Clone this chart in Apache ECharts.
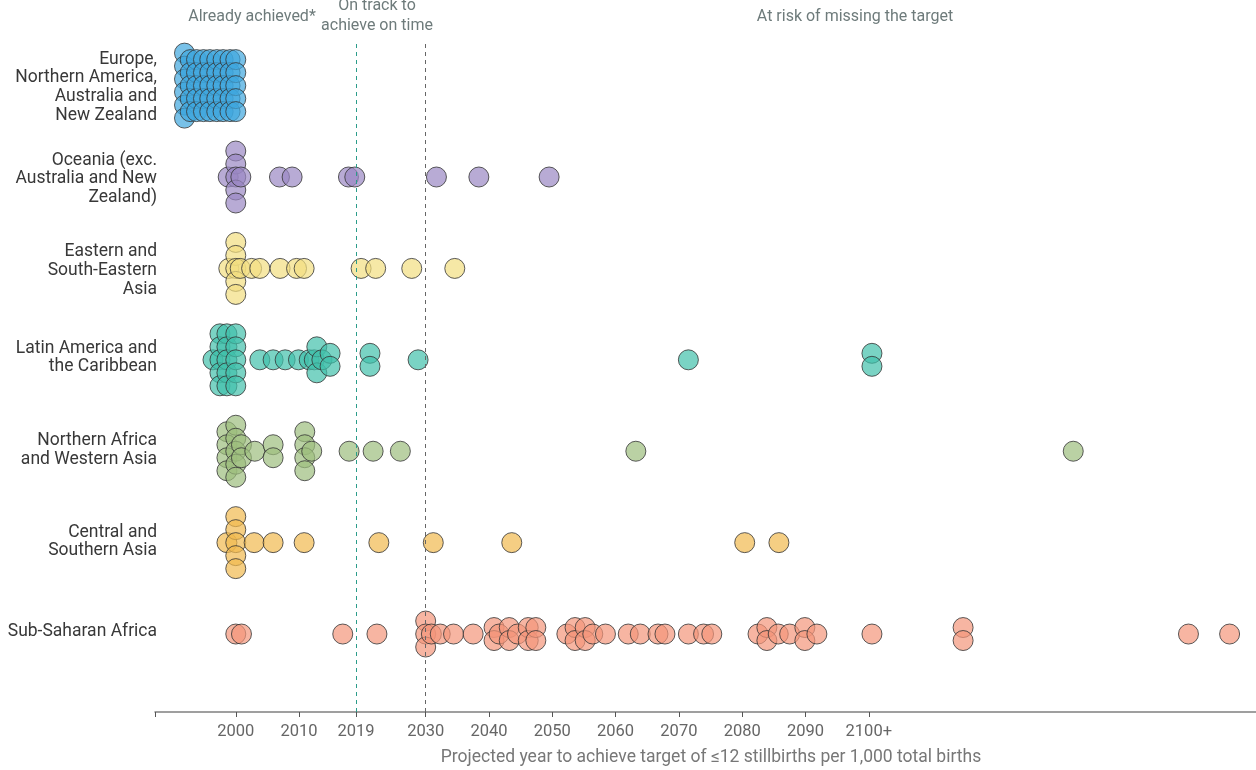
<!DOCTYPE html>
<html>
<head>
<meta charset="utf-8">
<script src="https://cdn.jsdelivr.net/npm/echarts@6/dist/echarts.min.js"></script>
<style>
  html, body { margin: 0; padding: 0; background: #fff; }
  #chart { width: 1256px; height: 770px; }
</style>
</head>
<body>
<div id="chart"></div>
<script>
// row labels, bottom (0) to top (6)
var regionNames = [
  'Sub-Saharan Africa',
  'Central and\nSouthern Asia',
  'Northern Africa\nand Western Asia',
  'Latin America and\nthe Caribbean',
  'Eastern and\nSouth-Eastern\nAsia',
  'Oceania (exc.\nAustralia and New\nZealand)',
  'Europe,\nNorthern America,\nAustralia and\nNew Zealand'
];
var regionColors = ['#f4967a', '#f1b94f', '#9dbd7e', '#42c0ab', '#f2de80', '#9a87c3', '#3fa7de'];

var yearTicks = [2000, 2010, 2019, 2030, 2040, 2050, 2060, 2070, 2080, 2090, 2100];
var onTrackYear = 2019;
var targetYear = 2030;

// points: [projected year, swarm lane] (lane -> row offset, negative = up)
var europePoints = [
  [1991.9, -2.5], [1991.9, -1.5], [1991.9, -0.5], [1991.9, 0.5], [1991.9, 1.5], [1991.9, 2.5],
  [1992.8, -2], [1992.8, -1], [1992.8, 0], [1992.8, 1], [1992.8, 2],
  [1993.8, -2], [1993.8, -1], [1993.8, 0], [1993.8, 1], [1993.8, 2],
  [1994.9, -2], [1994.9, -1], [1994.9, 0], [1994.9, 1], [1994.9, 2],
  [1995.9, -2], [1995.9, -1], [1995.9, 0], [1995.9, 1], [1995.9, 2],
  [1997.0, -2], [1997.0, -1], [1997.0, 0], [1997.0, 1], [1997.0, 2],
  [1998.0, -2], [1998.0, -1], [1998.0, 0], [1998.0, 1], [1998.0, 2],
  [1999.1, -2], [1999.1, -1], [1999.1, 0], [1999.1, 1], [1999.1, 2],
  [2000.0, -2], [2000.0, -1], [2000.0, 0], [2000.0, 1], [2000.0, 2]
];
var oceaniaPoints = [
  [1998.8, 0], [2000, -2], [2000, -1], [2000, 0], [2000, 1], [2000, 2], [2000.8, 0],
  [2006.9, 0], [2008.9, 0], [2017.8, 0], [2018.8, 0], [2031.7, 0], [2038.4, 0], [2049.5, 0]
];
var eastAsiaPoints = [
  [1998.9, 0], [2000, -2], [2000, -1], [2000, 0], [2000, 1], [2000, 2], [2000.7, 0],
  [2002.5, 0], [2003.8, 0], [2007.0, 0], [2009.6, 0], [2010.8, 0],
  [2019.8, 0], [2022.1, 0], [2027.8, 0], [2034.6, 0]
];
var latinPoints = [
  [1996.4, 0],
  [1997.5, -2], [1997.5, -1], [1997.5, 0], [1997.5, 1], [1997.5, 2],
  [1998.6, -2], [1998.6, -1], [1998.6, 0], [1998.6, 1], [1998.6, 2],
  [2000, -2], [2000, -1], [2000, 0], [2000, 1], [2000, 2],
  [2003.8, 0], [2005.9, 0], [2007.8, 0], [2009.9, 0], [2011.6, 0], [2012.4, 0],
  [2012.8, -1], [2012.8, 1], [2013.6, 0], [2014.9, -0.5], [2014.9, 0.5],
  [2021.2, -0.5], [2021.2, 0.5], [2028.8, 0], [2071.5, 0], [2100.5, -0.5], [2100.5, 0.5]
];
var northAfricaPoints = [
  [1998.6, -1.5], [1998.6, -0.5], [1998.6, 0.5], [1998.6, 1.5],
  [2000, -2], [2000, -1], [2000, 0], [2000, 1], [2000, 2],
  [2000.9, -0.5], [2000.9, 0.5], [2003.0, 0], [2005.9, -0.5], [2005.9, 0.5],
  [2010.9, -1.5], [2010.9, -0.5], [2010.9, 0.5], [2010.9, 1.5], [2012.0, 0],
  [2017.9, 0], [2021.7, 0], [2026.0, 0], [2063.2, 0], [2132.3, 0]
];
var centralAsiaPoints = [
  [1998.6, 0], [2000, -2], [2000, -1], [2000, 0], [2000, 1], [2000, 2],
  [2002.9, 0], [2005.9, 0], [2010.8, 0], [2022.6, 0], [2031.2, 0],
  [2043.6, 0], [2080.4, 0], [2085.8, 0]
];
var africaPoints = [
  [2000, 0], [2000.9, 0], [2016.9, 0], [2022.3, 0],
  [2030, -1], [2030, 0], [2030, 1], [2030.9, 0], [2032.3, 0], [2034.4, 0], [2037.5, 0],
  [2040.8, -0.5], [2040.8, 0.5], [2041.6, 0], [2043.2, -0.5], [2043.2, 0.5], [2044.5, 0],
  [2046.2, -0.5], [2046.2, 0.5], [2047.4, -0.5], [2047.4, 0.5],
  [2052.3, 0], [2053.6, -0.5], [2053.6, 0.5], [2055.2, -0.5], [2055.2, 0.5], [2056.4, 0], [2058.4, 0],
  [2062.0, 0], [2063.9, 0], [2066.7, 0], [2067.8, 0], [2071.5, 0], [2073.9, 0], [2075.2, 0],
  [2082.5, 0], [2083.9, -0.5], [2083.9, 0.5], [2085.7, 0], [2087.5, 0],
  [2089.9, -0.5], [2089.9, 0.5], [2091.8, 0],
  [2100.5, 0], [2114.9, -0.5], [2114.9, 0.5], [2150.5, 0], [2157.0, 0]
];

var regionPoints = [africaPoints, centralAsiaPoints, northAfricaPoints, latinPoints,
  eastAsiaPoints, oceaniaPoints, europePoints];

var LANE = 0.1422;      // one swarm lane in row units (13px)
var X_MIN = 1987.24, X_MAX = 2161.17;
var FONT = 'Roboto, "Liberation Sans", sans-serif';
// small vertical nudges for the row labels (px, + = down)
var labelNudge = [-2, -1, -1, -2, 2, 2, 2];

function hexAlpha(hex, a) {
  var n = parseInt(hex.slice(1), 16);
  return 'rgba(' + (n >> 16) + ',' + ((n >> 8) & 255) + ',' + (n & 255) + ',' + a + ')';
}

// every label line is a rich token with fixed line height;
// the first (or last) line gets extra padding to nudge the block
var labelBase = { fontSize: 17.5, lineHeight: 19, color: '#383838', fontFamily: FONT };
var labelRich = { b: labelBase };
[-2, -1, 2].forEach(function (d) {
  labelRich['n' + (d + 5)] = Object.assign({}, labelBase, {
    lineHeight: 19 + Math.abs(d) * 2,
    padding: d >= 0 ? [d * 2, 0, 0, 0] : [0, 0, -d * 2, 0],
    verticalAlign: d >= 0 ? 'bottom' : 'top'
  });
});

var series = [{
  type: 'line',
  data: [],
  silent: true,
  z: 1,
  markLine: {
    silent: true,
    symbol: 'none',
    label: { show: false },
    lineStyle: { type: [4, 4], width: 1 },
    data: [
      { xAxis: onTrackYear, lineStyle: { color: '#2b9c8a' } },
      { xAxis: targetYear, lineStyle: { color: '#666' } }
    ]
  }
}];

for (var i = regionPoints.length - 1; i >= 0; i--) {
  series.push({
    name: regionNames[i],
    type: 'scatter',
    symbol: 'circle',
    symbolSize: 20,
    z: 3,
    itemStyle: {
      color: hexAlpha(regionColors[i], 0.88),
      borderColor: '#333',
      borderWidth: 1
    },
    data: regionPoints[i].map(function (p) { return [p[0], i - p[1] * LANE]; })
  });
}

var chart = echarts.init(document.getElementById('chart'));
chart.setOption({
  animation: false,
  textStyle: { fontFamily: FONT },
  grid: { left: 155, right: 0, top: 40, bottom: 58 },
  xAxis: {
    type: 'value',
    min: X_MIN,
    max: X_MAX,
    splitLine: { show: false },
    axisLine: { onZero: false, lineStyle: { color: '#808080', width: 1.5 } },
    axisTick: { length: 5, lineStyle: { color: '#555' }, customValues: [X_MIN + 0.05].concat(yearTicks) },
    axisLabel: {
      customValues: yearTicks,
      color: '#666',
      fontSize: 16.5,
      margin: 11,
      fontFamily: FONT,
      formatter: function (v) { return v === 2100 ? '2100+' : String(v); }
    }
  },
  yAxis: {
    type: 'value',
    min: -0.853,
    max: 6.499,
    splitLine: { show: false },
    axisLine: { show: false },
    axisTick: { show: false },
    axisLabel: {
      customValues: [0, 1, 2, 3, 4, 5, 6],
      color: '#383838',
      fontSize: 17.5,
      lineHeight: 19,
      margin: -2,
      align: 'right',
      fontFamily: FONT,
      rich: labelRich,
      formatter: function (v) {
        var k = Math.round(v);
        var d = labelNudge[k];
        var lines = regionNames[k].split('\n').map(function (s) { return '{b|' + s + '}'; });
        if (d > 0) {
          lines[0] = lines[0].replace('{b|', '{n' + (d + 5) + '|');
        } else if (d < 0) {
          lines[lines.length - 1] = lines[lines.length - 1].replace('{b|', '{n' + (d + 5) + '|');
        }
        return lines.join('\n');
      }
    }
  },
  graphic: [
    { type: 'text', x: 252, y: 17, style: { text: 'Already achieved*', fill: '#6e7b7b', font: '16px ' + FONT, align: 'center', verticalAlign: 'middle' } },
    { type: 'text', x: 377, y: 16, style: { text: 'On track to\nachieve on time', fill: '#6e7b7b', font: '16px ' + FONT, align: 'center', verticalAlign: 'middle', lineHeight: 20 } },
    { type: 'text', x: 855, y: 17, style: { text: 'At risk of missing the target', fill: '#6e7b7b', font: '16px ' + FONT, align: 'center', verticalAlign: 'middle' } },
    { type: 'text', x: 711, y: 758, style: { text: 'Projected year to achieve target of \u226412 stillbirths per 1,000 total births', fill: '#777', font: '17.5px ' + FONT, align: 'center', verticalAlign: 'middle' } }
  ],
  series: series
});
</script>
</body>
</html>
